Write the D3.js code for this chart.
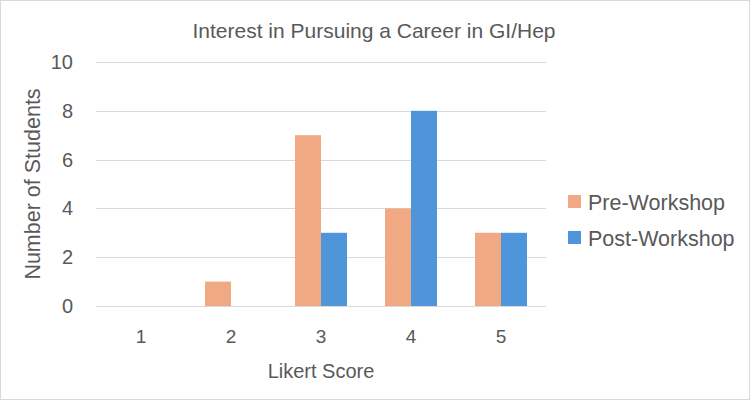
<!DOCTYPE html>
<html><head><meta charset="utf-8">
<script src="https://cdn.jsdelivr.net/npm/d3@7"></script>
<style>body{margin:0;background:#fff}svg{display:block}</style>
</head><body>
<script>
const categories = ["1","2","3","4","5"];
const seriesNames = ["Pre-Workshop","Post-Workshop"];
const preWorkshop = [0,1,7,4,3];
const postWorkshop = [0,0,3,8,3];
const yTicks = [0,2,4,6,8,10];
const colors = ["#F1A983","#4E95D9"];
const title = "Interest in Pursuing a Career in GI/Hep";

(function(){
const W=750,H=401;
const svg=d3.select("body").append("svg").attr("width",W).attr("height",H);
svg.append("rect").attr("x",0.5).attr("y",0.5).attr("width",W-1).attr("height",H-2)
  .attr("fill","#fff").attr("stroke","#d9d9d9");

const pL=96,pR=546,pT=62,pB=306;
const x=d3.scaleBand().domain(categories).range([pL,pR]);
const y=d3.scaleLinear().domain([0,10]).range([pB,pT]);
const x1=d3.scaleBand().domain(seriesNames).range([0,52]);

const narrow="'Liberation Sans Narrow','Arial Narrow',sans-serif";
const reg="'Liberation Sans',Arial,sans-serif";
const txt="#595959";

svg.append("g").selectAll("line").data(yTicks).join("line")
  .attr("x1",pL).attr("x2",pR).attr("y1",d=>Math.round(y(d))+0.5).attr("y2",d=>Math.round(y(d))+0.5)
  .attr("stroke","#d9d9d9").attr("stroke-width",1);

svg.append("g").selectAll("text").data(yTicks).join("text")
  .attr("x",73).attr("y",d=>y(d)).attr("dy","0.35em").attr("text-anchor","end")
  .attr("font-family",reg).attr("font-size",20).attr("fill",txt).text(d=>d);

const data=categories.map((c,i)=>({c,vals:[preWorkshop[i],postWorkshop[i]]}));
const g=svg.append("g").selectAll("g").data(data).join("g")
  .attr("transform",d=>`translate(${x(d.c)+x.bandwidth()/2-26},0)`);
g.selectAll("rect").data(d=>d.vals.map((v,j)=>({v,s:seriesNames[j],j}))).join("rect")
  .attr("x",d=>x1(d.s)).attr("width",x1.bandwidth())
  .attr("y",d=>y(d.v)).attr("height",d=>pB-y(d.v))
  .attr("fill",d=>colors[d.j]);

svg.append("g").selectAll("text").data(categories).join("text")
  .attr("x",d=>x(d)+x.bandwidth()/2).attr("y",343).attr("text-anchor","middle")
  .attr("font-family",narrow).attr("font-size",19).attr("fill",txt).text(d=>d);

svg.append("text").attr("x",321).attr("y",378).attr("text-anchor","middle")
  .attr("font-family",narrow).attr("font-size",20).attr("fill",txt).text("Likert Score");

svg.append("text").attr("transform","translate(40,184) rotate(-90)").attr("text-anchor","middle")
  .attr("font-family",reg).attr("font-size",21.5).attr("fill",txt).text("Number of Students");

svg.append("text").attr("x",374).attr("y",38).attr("text-anchor","middle")
  .attr("font-family",narrow).attr("font-size",21).attr("fill",txt).text(title);

const lg=svg.append("g").selectAll("g").data(seriesNames).join("g")
  .attr("transform",(d,i)=>`translate(568,${202+i*36})`);
lg.append("rect").attr("x",0).attr("y",-7).attr("width",13).attr("height",13).attr("fill",(d,i)=>colors[i]);
lg.append("text").attr("x",20).attr("y",0).attr("dy","0.35em")
  .attr("font-family",reg).attr("font-size",21.5).attr("fill",txt).text(d=>d);
})();
</script>
</body></html>
